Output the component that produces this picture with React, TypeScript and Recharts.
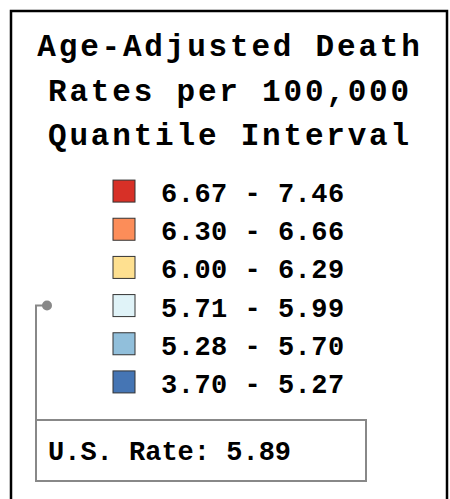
import { ScatterChart, Scatter, XAxis, YAxis, Customized } from 'recharts';

const titleLines = ['Age-Adjusted Death', 'Rates per 100,000', 'Quantile Interval'];
const lows = ['6.67', '6.30', '6.00', '5.71', '5.28', '3.70'];
const highs = ['7.46', '6.66', '6.29', '5.99', '5.70', '5.27'];
const colors = ['#d73027', '#fc8d59', '#fee090', '#e0f3f8', '#91bfdb', '#4575b4'];
const usRate = 5.89;

const FONT = "'Liberation Mono', 'Courier New', monospace";

const rows = lows.map((lo, i) => ({
  label: `${lo} - ${highs[i]}`,
  lo: Number(lo),
  hi: Number(highs[i]),
  color: colors[i],
  x: 0,
}));

const Frame = () => (
  <g>
    <rect x={11} y={11} width={436} height={520} fill="none" stroke="#000" strokeWidth={2.5} />
    {titleLines.map((t, i) => (
      <text
        key={t}
        x={230}
        y={56 + i * 44.5}
        textAnchor="middle"
        fontFamily={FONT}
        fontWeight="bold"
        fontSize={31}
        letterSpacing={2.8}
        fill="#000"
      >
        {t}
      </text>
    ))}
    <rect x={36} y={420} width={330} height={61} fill="#fff" stroke="#888" strokeWidth={2} />
    <text x={48} y={460} fontFamily={FONT} fontWeight="bold" fontSize={27} fill="#000">
      {`U.S. Rate: ${usRate.toFixed(2)}`}
    </text>
  </g>
);

const LegendRow = (props: any) => {
  const { cx, cy, payload } = props;
  // connector goes to the class that holds the U.S. rate
  const hit = usRate >= payload.lo && usRate <= payload.hi;
  return (
    <g>
      {hit && (
        <g>
          <polyline points={`${cx + 47},${cy} ${cx + 36},${cy} ${cx + 36},420`} fill="none" stroke="#888" strokeWidth={2} />
          <circle cx={cx + 47} cy={cy} r={5} fill="#888" />
        </g>
      )}
      <rect x={cx + 113} y={cy - 11} width={22} height={22} fill={payload.color} stroke="#333" strokeWidth={1} />
      <text x={cx + 161} y={cy + 11} fontFamily={FONT} fontWeight="bold" fontSize={27} letterSpacing={0.5} fill="#000">
        {payload.label}
      </text>
    </g>
  );
};

export default function App() {
  return (
    <div style={{ position: 'fixed', left: 0, top: 0, background: '#fff' }}>
      <ScatterChart width={450} height={499} margin={{ top: 172, bottom: 98, left: 0, right: 0 }}>
        <XAxis type="number" dataKey="x" domain={[0, 450]} hide />
        <YAxis type="category" dataKey="label" hide reversed />
        <Customized component={<Frame />} />
        <Scatter data={rows} shape={<LegendRow />} isAnimationActive={false} />
      </ScatterChart>
    </div>
  );
}
